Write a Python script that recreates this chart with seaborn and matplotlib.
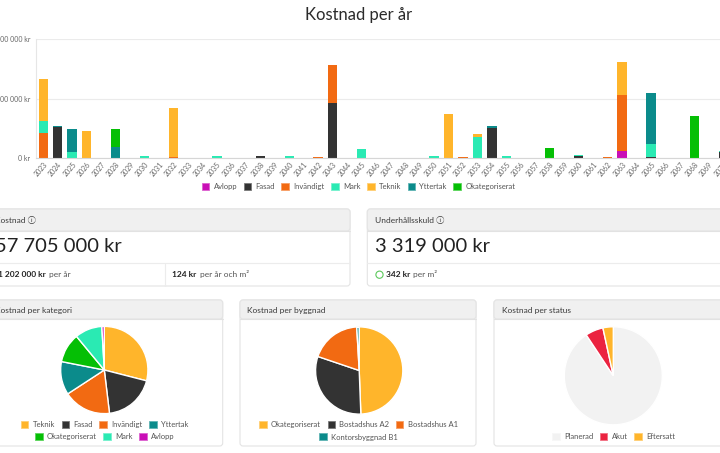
import matplotlib
matplotlib.use("Agg")
import matplotlib.pyplot as plt
import seaborn as sns
import numpy as np
import pandas as pd
from matplotlib.patches import FancyBboxPatch, Patch, Circle
from matplotlib.ticker import FuncFormatter

W, H = 720, 453

# ---------------- data ----------------
years = list(range(2023, 2071))
categories = ["Avlopp", "Fasad", "Invändigt", "Mark", "Teknik", "Yttertak", "Okategoriserat"]
cat_colors = ["#c90fb6", "#333333", "#f26a12", "#2aeab3", "#ffb52b", "#0b8b8b", "#05bf05"]

# cost per year in kr (years not listed are 0)
avlopp = {2063: 600000}
fasad = {2024: 2625000, 2038: 200000, 2043: 4650000, 2054: 2500000, 2060: 200000,
         2065: 100000, 2070: 530000}
invandigt = {2023: 2100000, 2032: 120000, 2042: 120000, 2043: 3200000, 2052: 120000,
             2062: 120000, 2063: 4700000}
mark = {2023: 1000000, 2025: 500000, 2030: 150000, 2035: 150000, 2040: 150000,
        2045: 750000, 2050: 150000, 2053: 1800000, 2055: 150000, 2060: 80000,
        2065: 1100000, 2070: 100000}
teknik = {2023: 3550000, 2026: 2250000, 2032: 4080000, 2051: 3700000, 2053: 225000,
          2063: 2800000}
yttertak = {2024: 80000, 2025: 1925000, 2028: 900000, 2054: 200000, 2065: 4250000}
okategoriserat = {2028: 1550000, 2058: 850000, 2068: 3500000}
series = [avlopp, fasad, invandigt, mark, teknik, yttertak, okategoriserat]

y_ticks = [0, 5000000, 10000000]

# pies (percent)
kat_labels = ["Teknik", "Fasad", "Invändigt", "Yttertak", "Okategoriserat", "Mark", "Avlopp"]
kat_values = [29.0, 19.1, 17.7, 12.3, 10.9, 10.1, 0.9]
kat_colors = ["#ffb52b", "#333333", "#f26a12", "#0b8b8b", "#05bf05", "#2aeab3", "#c90fb6"]

bygg_labels = ["Okategoriserat", "Bostadshus A2", "Bostadshus A1", "Kontorsbyggnad B1"]
bygg_values = [49.4, 30.8, 18.9, 0.9]
bygg_colors = ["#ffb52b", "#333333", "#f26a12", "#0b8b8b"]

status_labels = ["Planerad", "Akut", "Eftersatt"]
status_values = [90.7, 5.9, 3.4]
status_colors = ["#f2f2f2", "#eb2340", "#ffb52b"]

# ---------------- style ----------------
sns.set_theme(style="white")
plt.rcParams["font.family"] = ["Lato", "DejaVu Sans", "Noto Sans CJK JP"]

fig = plt.figure(figsize=(W / 100, H / 100), dpi=100)
fig.patch.set_facecolor("white")

bg = fig.add_axes([0, 0, 1, 1], zorder=0)
bg.set_xlim(0, W)
bg.set_ylim(H, 0)
bg.axis("off")

TXT = "#3a3a3a"
INFO_FAM = ["Lato", "Noto Sans CJK JP", "DejaVu Sans"]


def card(x0, x1, y0, y1, yh):
    bg.add_patch(FancyBboxPatch((x0, y0), x1 - x0, y1 - y0,
                                boxstyle="round,pad=0,rounding_size=3",
                                facecolor="white", edgecolor="#e4e4e4", lw=0.8))
    bg.add_patch(FancyBboxPatch((x0, y0), x1 - x0, yh - y0,
                                boxstyle="round,pad=0,rounding_size=3",
                                facecolor="#f0f0f0", edgecolor="#e4e4e4", lw=0.8))
    bg.plot([x0, x1], [yh, yh], color="#e2e2e2", lw=0.8)


# ---------------- title ----------------
bg.text(359, 15, "Kostnad per år", ha="center", va="center", fontsize=12, color="#2b2b2b")

# ---------------- stacked bar chart ----------------
ax = fig.add_axes([36 / W, (H - 158) / H, (730.6 - 36) / W, (158 - 39) / H], zorder=2)
ax.set_facecolor("none")

df = pd.DataFrame({cat: [s.get(y, 0) for y in years] for cat, s in zip(categories, series)})
df["year"] = [str(y) for y in years]
cum = df[categories].cumsum(axis=1)
order = [str(y) for y in years]
for i in range(len(categories) - 1, -1, -1):
    sns.barplot(x=df["year"], y=cum[categories[i]], color=cat_colors[i], order=order,
                width=0.65, saturation=1, errorbar=None, linewidth=0, ax=ax)

ax.set_xlim(-0.5, len(years) - 0.5)
ax.set_ylim(0, 10000000)
ax.set_yticks(y_ticks)
ax.yaxis.set_major_formatter(FuncFormatter(lambda v, p: f"{v:,.0f}".replace(",", " ") + " kr"))
ax.set_xlabel("")
ax.set_ylabel("")
ax.grid(axis="y", color="#ebebeb", lw=0.8)
ax.grid(axis="x", visible=False)
ax.set_axisbelow(True)
for sp in ["top", "right"]:
    ax.spines[sp].set_visible(False)
ax.spines["left"].set_color("#e6e6e6")
ax.spines["left"].set_linewidth(0.8)
ax.spines["bottom"].set_color("#d6d6d6")
ax.spines["bottom"].set_linewidth(0.8)
ax.tick_params(axis="y", length=0, pad=4.3, labelsize=5, labelcolor="#666666")
ax.tick_params(axis="x", length=0, pad=2, labelsize=5, labelcolor="#666666")
for lab in ax.get_xticklabels():
    lab.set_rotation(50)
    lab.set_ha("right")
    lab.set_rotation_mode("anchor")


def lighten(c, f=0.35):
    r, g, b = matplotlib.colors.to_rgb(c)
    return (r + (1 - r) * f, g + (1 - g) * f, b + (1 - b) * f)


def legend_at(labels, colors, cx, cy, fs=5.5, colsp=0.85):
    handles = [Patch(facecolor=c, edgecolor=lighten(c), lw=0.6, label=l)
               for l, c in zip(labels, colors)]
    lg = fig.legend(handles=handles, loc="center", bbox_to_anchor=(cx / W, 1 - cy / H),
                    ncol=len(labels), frameon=False, fontsize=fs, handlelength=1.0,
                    handleheight=1.0, handletextpad=0.55, columnspacing=colsp,
                    borderpad=0, borderaxespad=0)
    for t in lg.get_texts():
        t.set_color("#555555")
    return lg


legend_at(categories, cat_colors, 358.4, 186.7)

# ---------------- KPI cards ----------------
card(-10, 350, 209, 286, 231)
bg.plot([-10, 350], [263, 263], color="#ececec", lw=0.8)
bg.plot([165, 165], [263, 286], color="#ececec", lw=0.8)
bg.text(-5, 220, "Kostnad ⓘ", ha="left", va="center", fontsize=6, color=TXT, family=INFO_FAM)
bg.text(121.7, 247, "57 705 000 kr", ha="right", va="center", fontsize=14.5, color="#222222")
bg.text(45.7, 274.5, "1 202 000 kr", ha="right", va="center", fontsize=6, fontweight="bold", color="#222222")
bg.text(49, 274.5, "per år", ha="left", va="center", fontsize=6, color="#555555")
bg.text(172.5, 274.5, "124 kr", ha="left", va="center", fontsize=6, fontweight="bold", color="#222222")
bg.text(200, 274.5, "per år och m²", ha="left", va="center", fontsize=6, color="#555555")

card(367.3, 730, 209, 286, 231)
bg.plot([367.3, 730], [263, 263], color="#ececec", lw=0.8)
bg.text(375, 220, "Underhållsskuld ⓘ", ha="left", va="center", fontsize=6, color=TXT, family=INFO_FAM)
bg.text(375, 247, "3 319 000 kr", ha="left", va="center", fontsize=14.5, color="#222222")
bg.add_patch(Circle((379.5, 274.7), 3.6, facecolor="white", edgecolor="#5cc95c", lw=0.8))
bg.text(385.7, 274.5, "342 kr", ha="left", va="center", fontsize=6, fontweight="bold", color="#222222")
bg.text(413, 274.5, "per m²", ha="left", va="center", fontsize=6, color="#555555")

# ---------------- pie panels ----------------
card(-10, 222.7, 300, 446, 319)
card(240, 476, 300, 446, 319)
card(494, 730, 300, 446, 319)
bg.text(-5, 310, "Kostnad per kategori", ha="left", va="center", fontsize=6, color=TXT)
bg.text(247.3, 310, "Kostnad per byggnad", ha="left", va="center", fontsize=6, color=TXT)
bg.text(502, 310, "Kostnad per status", ha="left", va="center", fontsize=6, color=TXT)


def pie_at(values, colors, cx, cy, r):
    pax = fig.add_axes([(cx - r) / W, (H - cy - r) / H, 2 * r / W, 2 * r / H], zorder=2)
    pax.pie(values, colors=colors, startangle=90, counterclock=False,
            wedgeprops=dict(edgecolor="white", linewidth=1.0))
    pax.set_xlim(-1.02, 1.02)
    pax.set_ylim(-1.02, 1.02)
    pax.set_aspect("equal")
    pax.axis("off")


pie_at(kat_values, kat_colors, 104.3, 370, 44.5)
pie_at(bygg_values, bygg_colors, 359.2, 370.5, 44.5)
pie_at(status_values, status_colors, 613.3, 375.8, 50)

legend_at(kat_labels[:4], kat_colors[:4], 104.5, 424.3)
legend_at(kat_labels[4:], kat_colors[4:], 104.7, 436.7)
legend_at(bygg_labels[:3], bygg_colors[:3], 358.5, 424.3)
legend_at(bygg_labels[3:], bygg_colors[3:], 358.8, 437)
legend_at(status_labels, status_colors, 613.5, 436.7)

fig.savefig("out.png", dpi=100, facecolor="white")
